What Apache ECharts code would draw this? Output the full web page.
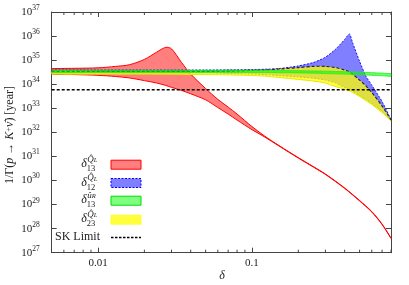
<!DOCTYPE html>
<html><head><meta charset="utf-8">
<script src="https://cdn.jsdelivr.net/npm/echarts@6/dist/echarts.min.js"></script>
<style>html,body{margin:0;padding:0;background:#fff}#c{width:409px;height:285px}</style>
</head><body><div id="c"></div>
<script>
// ---- data (lifetimes given as log10 of years) ----
const xTickLabels = ['0.01', '0.1'];
const yTickExponents = [27, 28, 29, 30, 31, 32, 33, 34, 35, 36, 37];
const minorTicksX = [0.006, 0.007, 0.008, 0.009, 0.02, 0.03, 0.04, 0.05, 0.06, 0.07, 0.08, 0.09, 0.2, 0.3, 0.4, 0.5, 0.6, 0.7, 0.8];

const deltaRed = [0.005, 0.007, 0.01, 0.013, 0.016, 0.02, 0.024, 0.0275, 0.03, 0.035, 0.04, 0.05, 0.06, 0.07, 0.08, 0.1, 0.12, 0.15, 0.2, 0.25, 0.3, 0.4, 0.5, 0.6, 0.7, 0.8];
const redUpperLog10 = [34.65, 34.66, 34.68, 34.74, 34.81, 35.03, 35.33, 35.53, 35.47, 34.89, 34.42, 33.82, 33.37, 33.05, 32.76, 32.24, 31.86, 31.45, 30.95, 30.58, 30.27, 29.69, 29.17, 28.71, 28.19, 27.61];
const redLowerLog10 = [34.42, 34.40, 34.37, 34.32, 34.26, 34.15, 34.05, 33.95, 33.87, 33.74, 33.60, 33.35, 33.03, 32.76, 32.51, 32.11, 31.82, 31.43, 30.93, 30.56, 30.25, 29.67, 29.15, 28.69, 28.17, 27.59];

const deltaBand = [0.005, 0.01, 0.02, 0.05, 0.08, 0.1, 0.12, 0.15, 0.2, 0.25, 0.3, 0.35, 0.4, 0.43, 0.45, 0.5, 0.55, 0.6, 0.7, 0.8];
const blueUpperLog10 = [34.59, 34.59, 34.59, 34.59, 34.60, 34.61, 34.62, 34.65, 34.76, 34.90, 35.12, 35.46, 35.86, 36.09, 35.73, 34.95, 34.33, 33.96, 33.28, 32.53];
const blueLowerLog10 = [34.48, 34.48, 34.48, 34.47, 34.44, 34.42, 34.40, 34.36, 34.30, 34.25, 34.17, 34.05, 33.86, 33.78, 33.72, 33.53, 33.36, 33.20, 32.87, 32.49];
const greenUpperLog10 = [34.58, 34.58, 34.58, 34.58, 34.58, 34.58, 34.58, 34.57, 34.56, 34.55, 34.54, 34.53, 34.52, 34.51, 34.51, 34.50, 34.49, 34.48, 34.46, 34.44];
const greenLowerLog10 = [34.49, 34.49, 34.49, 34.49, 34.49, 34.49, 34.49, 34.48, 34.47, 34.46, 34.44, 34.43, 34.42, 34.41, 34.40, 34.39, 34.38, 34.37, 34.35, 34.33];
const yellowUpperLog10 = [34.53, 34.53, 34.53, 34.53, 34.55, 34.57, 34.59, 34.63, 34.69, 34.74, 34.74, 34.69, 34.59, 34.51, 34.42, 34.17, 33.93, 33.66, 33.09, 32.52];
const yellowLowerLog10 = [34.42, 34.42, 34.42, 34.40, 34.38, 34.36, 34.34, 34.28, 34.20, 34.13, 34.05, 33.90, 33.80, 33.72, 33.66, 33.49, 33.32, 33.16, 32.82, 32.47];
const skLimit = 5.9e33;

const legendNames = [
  {sup: 'Q̂', supSub: 'L', sub: '13'},
  {sup: 'Q̂', supSub: 'L', sub: '12'},
  {sup: 'û', supSub: 'R', sub: '13'},
  {sup: 'Q̂', supSub: 'L', sub: '23'}
];

const SERIF = '"Liberation Serif", "DejaVu Serif", serif';
const FRAME = '#444';

function bandSeries(name, xs, lo, up, st) {
  const data = xs.map((x, i) => [x, Math.pow(10, lo[i]), Math.pow(10, up[i])]);
  const sm = st.smooth || 0;
  return {
    type: 'custom', name, coordinateSystem: 'cartesian2d', xAxisIndex: 0, yAxisIndex: 0,
    encode: {x: 0, y: [1, 2]}, data, z: st.z, silent: true, animation: false,
    renderItem(params, api) {
      if (params.dataIndex !== 0) return null;
      const upPts = data.map(d => api.coord([d[0], d[2]]));
      const loPts = data.map(d => api.coord([d[0], d[1]]));
      return {
        type: 'group', children: [
          {type: 'polygon', shape: {points: upPts.concat(loPts.slice().reverse()), smooth: sm}, style: {fill: st.fill, stroke: null}},
          {type: 'polyline', shape: {points: loPts, smooth: sm}, style: {fill: null, stroke: st.loStroke, lineWidth: st.loWidth || 1, lineDash: st.loDash || null}},
          {type: 'polyline', shape: {points: upPts, smooth: sm}, style: {fill: null, stroke: st.upStroke, lineWidth: st.upWidth || 1, lineDash: st.upDash || null}}
        ]
      };
    }
  };
}

const minorTickSeries = {
  type: 'custom', coordinateSystem: 'cartesian2d', xAxisIndex: 0, yAxisIndex: 0, silent: true, z: 20,
  data: minorTicksX.map(x => [x, 1e30]), animation: false,
  renderItem(params, api) {
    const x = api.value(0);
    const b = api.coord([x, 1e27]);
    const t = api.coord([x, 1e37]);
    return {type: 'group', children: [
      {type: 'line', shape: {x1: b[0], y1: b[1], x2: b[0], y2: b[1] - 3}, style: {stroke: FRAME, lineWidth: 1}},
      {type: 'line', shape: {x1: t[0], y1: t[1], x2: t[0], y2: t[1] + 3}, style: {stroke: FRAME, lineWidth: 1}}
    ]};
  }
};

function isDecade(v) { const l = Math.log10(v); return Math.abs(l - Math.round(l)) < 1e-6; }

const xAxisBase = {
  type: 'log', logBase: 10, min: 0.005, max: 0.8, gridIndex: 0,
  axisLine: {show: true, lineStyle: {color: FRAME, width: 1}},
  axisTick: {show: true, inside: true, length: 5, lineStyle: {color: FRAME}},
  splitLine: {show: false}, minorTick: {show: false}
};
const yAxisBase = {
  type: 'log', logBase: 10, min: 1e27, max: 1e37, interval: 1, gridIndex: 0,
  axisLine: {show: true, lineStyle: {color: FRAME, width: 1}},
  axisTick: {show: true, inside: true, length: 5, lineStyle: {color: FRAME}},
  splitLine: {show: false}, minorTick: {show: false}
};

const graphic = [];
// y axis title
graphic.push({
  type: 'text', x: 10, y: 135, rotation: Math.PI / 2,
  style: {
    text: '{r|1/Γ(}{i|p}{r| → }{i|K}{s|+}{i|ν̄}{r|) [year]}',
    align: 'center', verticalAlign: 'middle',
    rich: {
      r: {fontFamily: SERIF, fontSize: 12, fill: '#222'},
      i: {fontFamily: SERIF, fontSize: 12, fontStyle: 'italic', fill: '#222'},
      s: {fontFamily: SERIF, fontSize: 8.5, fill: '#222', verticalAlign: 'top', lineHeight: 9}
    }
  }
});
// x axis title
graphic.push({type: 'text', x: 222, y: 276, style: {text: 'δ', fontFamily: SERIF, fontStyle: 'italic', fontSize: 12, fill: '#222', align: 'center', verticalAlign: 'middle'}});

// legend
const legendStyles = [
  {fill: 'rgba(255,0,0,0.5)', stroke: '#ff0000', dash: null},
  {fill: 'rgba(0,0,255,0.5)', stroke: '#0000ff', dash: [2, 1.5]},
  {fill: 'rgba(0,255,0,0.5)', stroke: '#00dd00', dash: null},
  {fill: 'rgba(255,255,0,0.75)', stroke: 'rgba(255,255,0,0.75)', dash: null}
];
const rowY = [164.7, 183, 200.7, 219.7];
legendNames.forEach((n, i) => {
  const cy = rowY[i];
  const st = legendStyles[i];
  graphic.push({type: 'rect', shape: {x: 111, y: cy - 4.5, width: 30, height: 9}, style: {fill: st.fill, stroke: st.stroke, lineWidth: 1, lineDash: st.dash}});
  graphic.push({type: 'text', x: 86.8, y: cy - 0.6, style: {text: 'δ', fontFamily: SERIF, fontStyle: 'italic', fontSize: 12, fill: '#222', align: 'right', verticalAlign: 'middle'}});
  graphic.push({type: 'text', x: 87.3, y: cy - 5, style: {
    text: '{a|' + n.sup + '}{b|' + n.supSub + '}', align: 'left', verticalAlign: 'middle',
    rich: {a: {fontFamily: SERIF, fontStyle: 'italic', fontSize: 9, fill: '#222', verticalAlign: 'top', lineHeight: 9},
           b: {fontFamily: SERIF, fontStyle: 'italic', fontSize: 6.5, fill: '#222', verticalAlign: 'bottom', lineHeight: 9}}}});
  graphic.push({type: 'text', x: 86.8, y: cy + 4.3, style: {text: n.sub, fontFamily: SERIF, fontSize: 8.5, fill: '#222', align: 'left', verticalAlign: 'middle'}});
});
graphic.push({type: 'text', x: 100, y: 237.3, style: {text: 'SK Limit', fontFamily: SERIF, fontSize: 12, fill: '#222', align: 'right', verticalAlign: 'middle'}});
graphic.push({type: 'line', shape: {x1: 111, y1: 237.5, x2: 141, y2: 237.5}, style: {stroke: '#000', lineWidth: 1.3, lineDash: [2.5, 1.5]}});

const chart = echarts.init(document.getElementById('c'), null, {renderer: 'canvas', width: 409, height: 285});
chart.setOption({
  animation: false,
  backgroundColor: '#fff',
  grid: {left: 51.7, right: 18, top: 12, bottom: 32.3, containLabel: false},
  xAxis: [
    Object.assign({}, xAxisBase, {position: 'bottom', axisLabel: {
      show: true, margin: 5, fontFamily: SERIF, fontSize: 11, color: '#222',
      formatter: v => { if (!isDecade(v)) return ''; const s = String(Math.round(v * 1000) / 1000); return xTickLabels.indexOf(s) >= 0 ? s : ''; }
    }}),
    Object.assign({}, xAxisBase, {position: 'top', axisLabel: {show: false}})
  ],
  yAxis: [
    Object.assign({}, yAxisBase, {position: 'left', axisLabel: {
      show: true, margin: 12, fontFamily: SERIF, color: '#222',
      formatter: v => { const e = Math.round(Math.log10(v)); return yTickExponents.indexOf(e) >= 0 ? '{b|10}{s|' + e + '}' : ''; },
      rich: {
        b: {fontFamily: SERIF, fontSize: 11, lineHeight: 16, verticalAlign: 'middle', color: '#222'},
        s: {fontFamily: SERIF, fontSize: 7.5, lineHeight: 8, verticalAlign: 'top', color: '#222'}
      }
    }}),
    Object.assign({}, yAxisBase, {position: 'right', axisLabel: {show: false}})
  ],
  series: [
    bandSeries('δ13 QL', deltaRed, redLowerLog10, redUpperLog10, {z: 2, smooth: 0.3, fill: 'rgba(255,0,0,0.5)', upStroke: '#ff0000', loStroke: '#ff0000'}),
    bandSeries('δ12 QL', deltaBand, blueLowerLog10, blueUpperLog10, {z: 3, smooth: 0.2, fill: 'rgba(0,0,255,0.5)', upStroke: '#0000ff', loStroke: '#0000ff', upDash: [2, 1.5], loDash: [2, 1.5], upWidth: 0.9, loWidth: 0.9}),
    bandSeries('δ23 QL', deltaBand, yellowLowerLog10, yellowUpperLog10, {z: 4, smooth: 0.3, fill: 'rgba(255,255,0,0.75)', upStroke: '#222', upDash: [3, 2], upWidth: 1.1, loStroke: '#e8e800'}),
    bandSeries('δ13 uR', deltaBand, greenLowerLog10, greenUpperLog10, {z: 5, smooth: 0.3, fill: 'rgba(0,255,0,0.6)', upStroke: '#22ee22', loStroke: '#22ee22', upWidth: 0.8, loWidth: 0.8}),
    {type: 'line', name: 'SK Limit', xAxisIndex: 0, yAxisIndex: 0, z: 6, symbol: 'none', silent: true,
     data: [[0.005, skLimit], [0.8, skLimit]], lineStyle: {color: '#000', width: 1.5, type: [3, 2]}},
    minorTickSeries
  ],
  graphic
});
</script></body></html>
